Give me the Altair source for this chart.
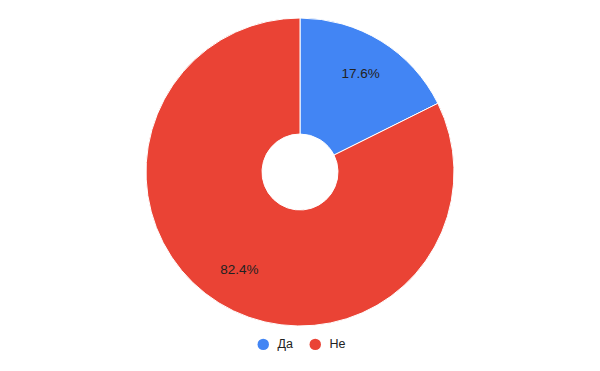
import altair as alt
import pandas as pd

categories = ["Да", "Не"]
counts = [3, 14]
colors = ["#4285F4", "#EA4335"]

df = pd.DataFrame({"cat": categories, "count": counts, "order": [0, 1]})

base = alt.Chart(df).transform_joinaggregate(
    total="sum(count)"
).transform_calculate(
    pct="format(datum.count / datum.total, '.1%')"
).encode(
    theta=alt.Theta("count:Q", stack=True),
    order=alt.Order("order:Q"),
    x=alt.value(300),
    y=alt.value(172),
)

arcs = base.mark_arc(outerRadius=154, innerRadius=38, stroke="white", strokeWidth=1).encode(
    color=alt.Color(
        "cat:N",
        scale=alt.Scale(domain=categories, range=colors),
        legend=alt.Legend(
            title=None,
            orient="none",
            direction="horizontal",
            legendX=257,
            legendY=338,
            symbolType="circle",
            symbolSize=130,
            symbolStrokeWidth=0,
            labelFont="Liberation Sans",
            labelFontSize=12.5,
            labelColor="#222222",
            columnPadding=16,
            labelOffset=8,
        ),
    )
)

labels = base.mark_text(radius=115, font="Liberation Sans", fontSize=13.5, color="#222222").encode(
    text="pct:N"
)

chart = (arcs + labels).properties(
    width=600, height=371, autosize=alt.AutoSizeParams(type="none"), padding=0
).configure_view(stroke=None)

chart.save("out.html", embed_options={"renderer": "svg", "actions": False})
